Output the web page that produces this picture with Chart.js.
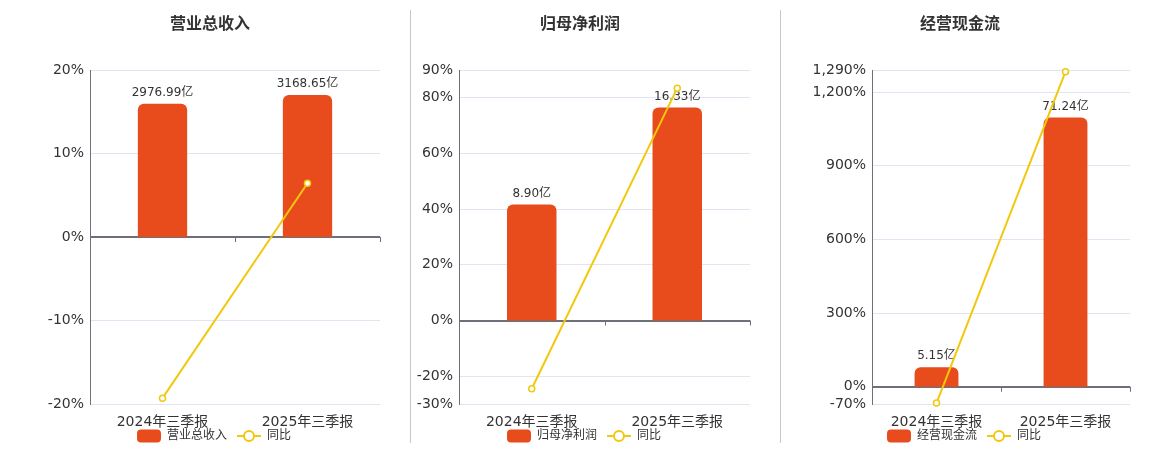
<!DOCTYPE html>
<html>
<head>
<meta charset="utf-8">
<script src="https://cdn.jsdelivr.net/npm/chart.js@4/dist/chart.umd.min.js"></script>
<style>
  html, body { margin: 0; padding: 0; background: #fff; }
  #wrap { position: relative; width: 1160px; height: 450px; overflow: hidden; }
  .panel { position: absolute; top: 0; width: 360px; height: 450px; }
  .sep { position: absolute; top: 10px; width: 1px; height: 433px; background: #c8c8c8; }
</style>
</head>
<body>
<div id="wrap">
  <div class="panel" style="left:40px"><canvas id="c1" width="360" height="450"></canvas></div>
  <div class="panel" style="left:410px"><canvas id="c2" width="360" height="450"></canvas></div>
  <div class="panel" style="left:790px"><canvas id="c3" width="360" height="450"></canvas></div>
  <div class="sep" style="left:410px"></div>
  <div class="sep" style="left:780px"></div>
</div>
<script>
// 数据
const periods = ['2024年三季报', '2025年三季报'];

const revenue = [2976.99, 3168.65];
const revenueYoy = [-19.3, 6.44];
const revenueTicks = [-20, -10, 0, 10, 20];

const netProfit = [8.90, 16.33];
const netProfitYoy = [-24.5, 83.48];
const netProfitTicks = [-30, -20, 0, 20, 40, 60, 80, 90];

const cashFlow = [5.15, 71.24];
const cashFlowYoy = [-66.3, 1283.3];
const cashFlowTicks = [-70, 0, 300, 600, 900, 1200, 1290];

const barColor = '#E84B1C';
const lineColor = '#F2C80F';
const axisColor = '#6E7079';
const gridColor = '#E0E6F1';
const textColor = '#333';
const fontFamily = '"DejaVu Sans", "Noto Sans CJK SC", sans-serif';

// 图例图标 (左边留 8px 空白, 当作图例项之间的间距)
function barIcon() {
  const c = document.createElement('canvas');
  c.width = 32; c.height = 14;
  const g = c.getContext('2d');
  g.fillStyle = barColor;
  g.beginPath();
  g.roundRect(8, 0.5, 24, 13, 4);
  g.fill();
  return c;
}

function lineIcon() {
  const c = document.createElement('canvas');
  c.width = 32; c.height = 14;
  const g = c.getContext('2d');
  g.strokeStyle = lineColor;
  g.lineWidth = 2;
  g.beginPath();
  g.moveTo(8, 7); g.lineTo(15, 7);
  g.moveTo(25, 7); g.lineTo(32, 7);
  g.stroke();
  g.beginPath();
  g.arc(20, 7, 5, 0, Math.PI * 2);
  g.fillStyle = '#fff';
  g.fill();
  g.stroke();
  return c;
}

const icons = [barIcon(), lineIcon()];

// 柱子上方的数值
const barLabels = {
  id: 'barLabels',
  afterDatasetDraw(chart, args) {
    if (args.index !== 0) return;
    const ctx = chart.ctx;
    const ds = chart.data.datasets[0];
    ctx.save();
    ctx.font = '12px ' + fontFamily;
    ctx.fillStyle = textColor;
    ctx.textAlign = 'center';
    ctx.textBaseline = 'middle';
    args.meta.data.forEach((bar, i) => {
      ctx.fillText(ds.data[i].toFixed(2) + '亿', bar.x, bar.y - 11);
    });
    ctx.restore();
  }
};

// 零轴上的刻度
const zeroTicks = {
  id: 'zeroTicks',
  afterDraw(chart) {
    const x = chart.scales.x;
    const y0 = chart.scales.y.getPixelForValue(0);
    const half = (x.getPixelForValue(1) - x.getPixelForValue(0)) / 2;
    const ctx = chart.ctx;
    ctx.save();
    ctx.strokeStyle = axisColor;
    ctx.lineWidth = 1;
    ctx.beginPath();
    for (let i = 0; i <= periods.length; i++) {
      const px = Math.round(x.getPixelForValue(0) - half + i * half * 2) + 0.5;
      ctx.moveTo(px, y0);
      ctx.lineTo(px, y0 + 5);
    }
    ctx.stroke();
    ctx.restore();
  }
};

function makeChart(id, title, name, bars, yoy, ticks, axisWidth) {
  const yMin = ticks[0];
  const yMax = ticks[ticks.length - 1];
  const barMax = Math.max(...bars) / 0.85;
  const barMin = barMax * yMin / yMax;

  new Chart(document.getElementById(id), {
    data: {
      labels: periods,
      datasets: [
        {
          type: 'bar',
          label: name,
          data: bars,
          yAxisID: 'y1',
          backgroundColor: barColor,
          borderRadius: { topLeft: 6, topRight: 6 },
          borderSkipped: 'start',
          barPercentage: 0.34,
          categoryPercentage: 1,
          order: 1
        },
        {
          type: 'line',
          label: '同比',
          data: yoy,
          yAxisID: 'y',
          borderColor: lineColor,
          borderWidth: 2,
          pointRadius: 3,
          pointBorderWidth: 1.5,
          pointBackgroundColor: '#fff',
          pointBorderColor: lineColor,
          tension: 0,
          clip: false,
          order: 0
        }
      ]
    },
    options: {
      responsive: false,
      animation: false,
      layout: { padding: { left: 0, right: 20, top: 0, bottom: -2 } },
      scales: {
        x: {
          offset: true,
          grid: { display: false },
          border: { display: false },
          ticks: { color: textColor, padding: 3, font: { size: 14, lineHeight: 1, family: fontFamily } },
          afterFit(scale) { scale.height = 24; }
        },
        y: {
          position: 'left',
          min: yMin,
          max: yMax,
          afterBuildTicks(scale) { scale.ticks = ticks.map(v => ({ value: v })); },
          afterFit(scale) { scale.width = axisWidth; },
          grid: {
            drawTicks: false,
            color: c => c.tick && c.tick.value === 0 ? axisColor : gridColor,
            lineWidth: c => c.tick && c.tick.value === 0 ? 2 : 1
          },
          border: { display: true, color: axisColor, width: 1 },
          ticks: {
            color: textColor,
            padding: 6,
            font: { size: 14, family: fontFamily },
            callback: v => v.toLocaleString('en-US') + '%'
          }
        },
        y1: {
          display: false,
          min: barMin,
          max: barMax
        }
      },
      plugins: {
        title: {
          display: true,
          text: title,
          color: textColor,
          font: { size: 16, weight: 'bold', family: fontFamily },
          padding: { top: 15, bottom: 35.8 }
        },
        legend: {
          position: 'bottom',
          labels: {
            usePointStyle: true,
            pointStyleWidth: 32,
            padding: 2,
            color: textColor,
            font: { size: 12, family: fontFamily },
            generateLabels(chart) {
              const items = Chart.defaults.plugins.legend.labels.generateLabels(chart);
              items.forEach(it => { it.pointStyle = icons[it.datasetIndex]; });
              return items;
            },
            sort: (a, b) => a.datasetIndex - b.datasetIndex
          }
        },
        tooltip: { enabled: false }
      }
    },
    plugins: [barLabels, zeroTicks]
  });
}

makeChart('c1', '营业总收入', '营业总收入', revenue, revenueYoy, revenueTicks, 50);
makeChart('c2', '归母净利润', '归母净利润', netProfit, netProfitYoy, netProfitTicks, 49);
makeChart('c3', '经营现金流', '经营现金流', cashFlow, cashFlowYoy, cashFlowTicks, 82);
</script>
</body>
</html>
